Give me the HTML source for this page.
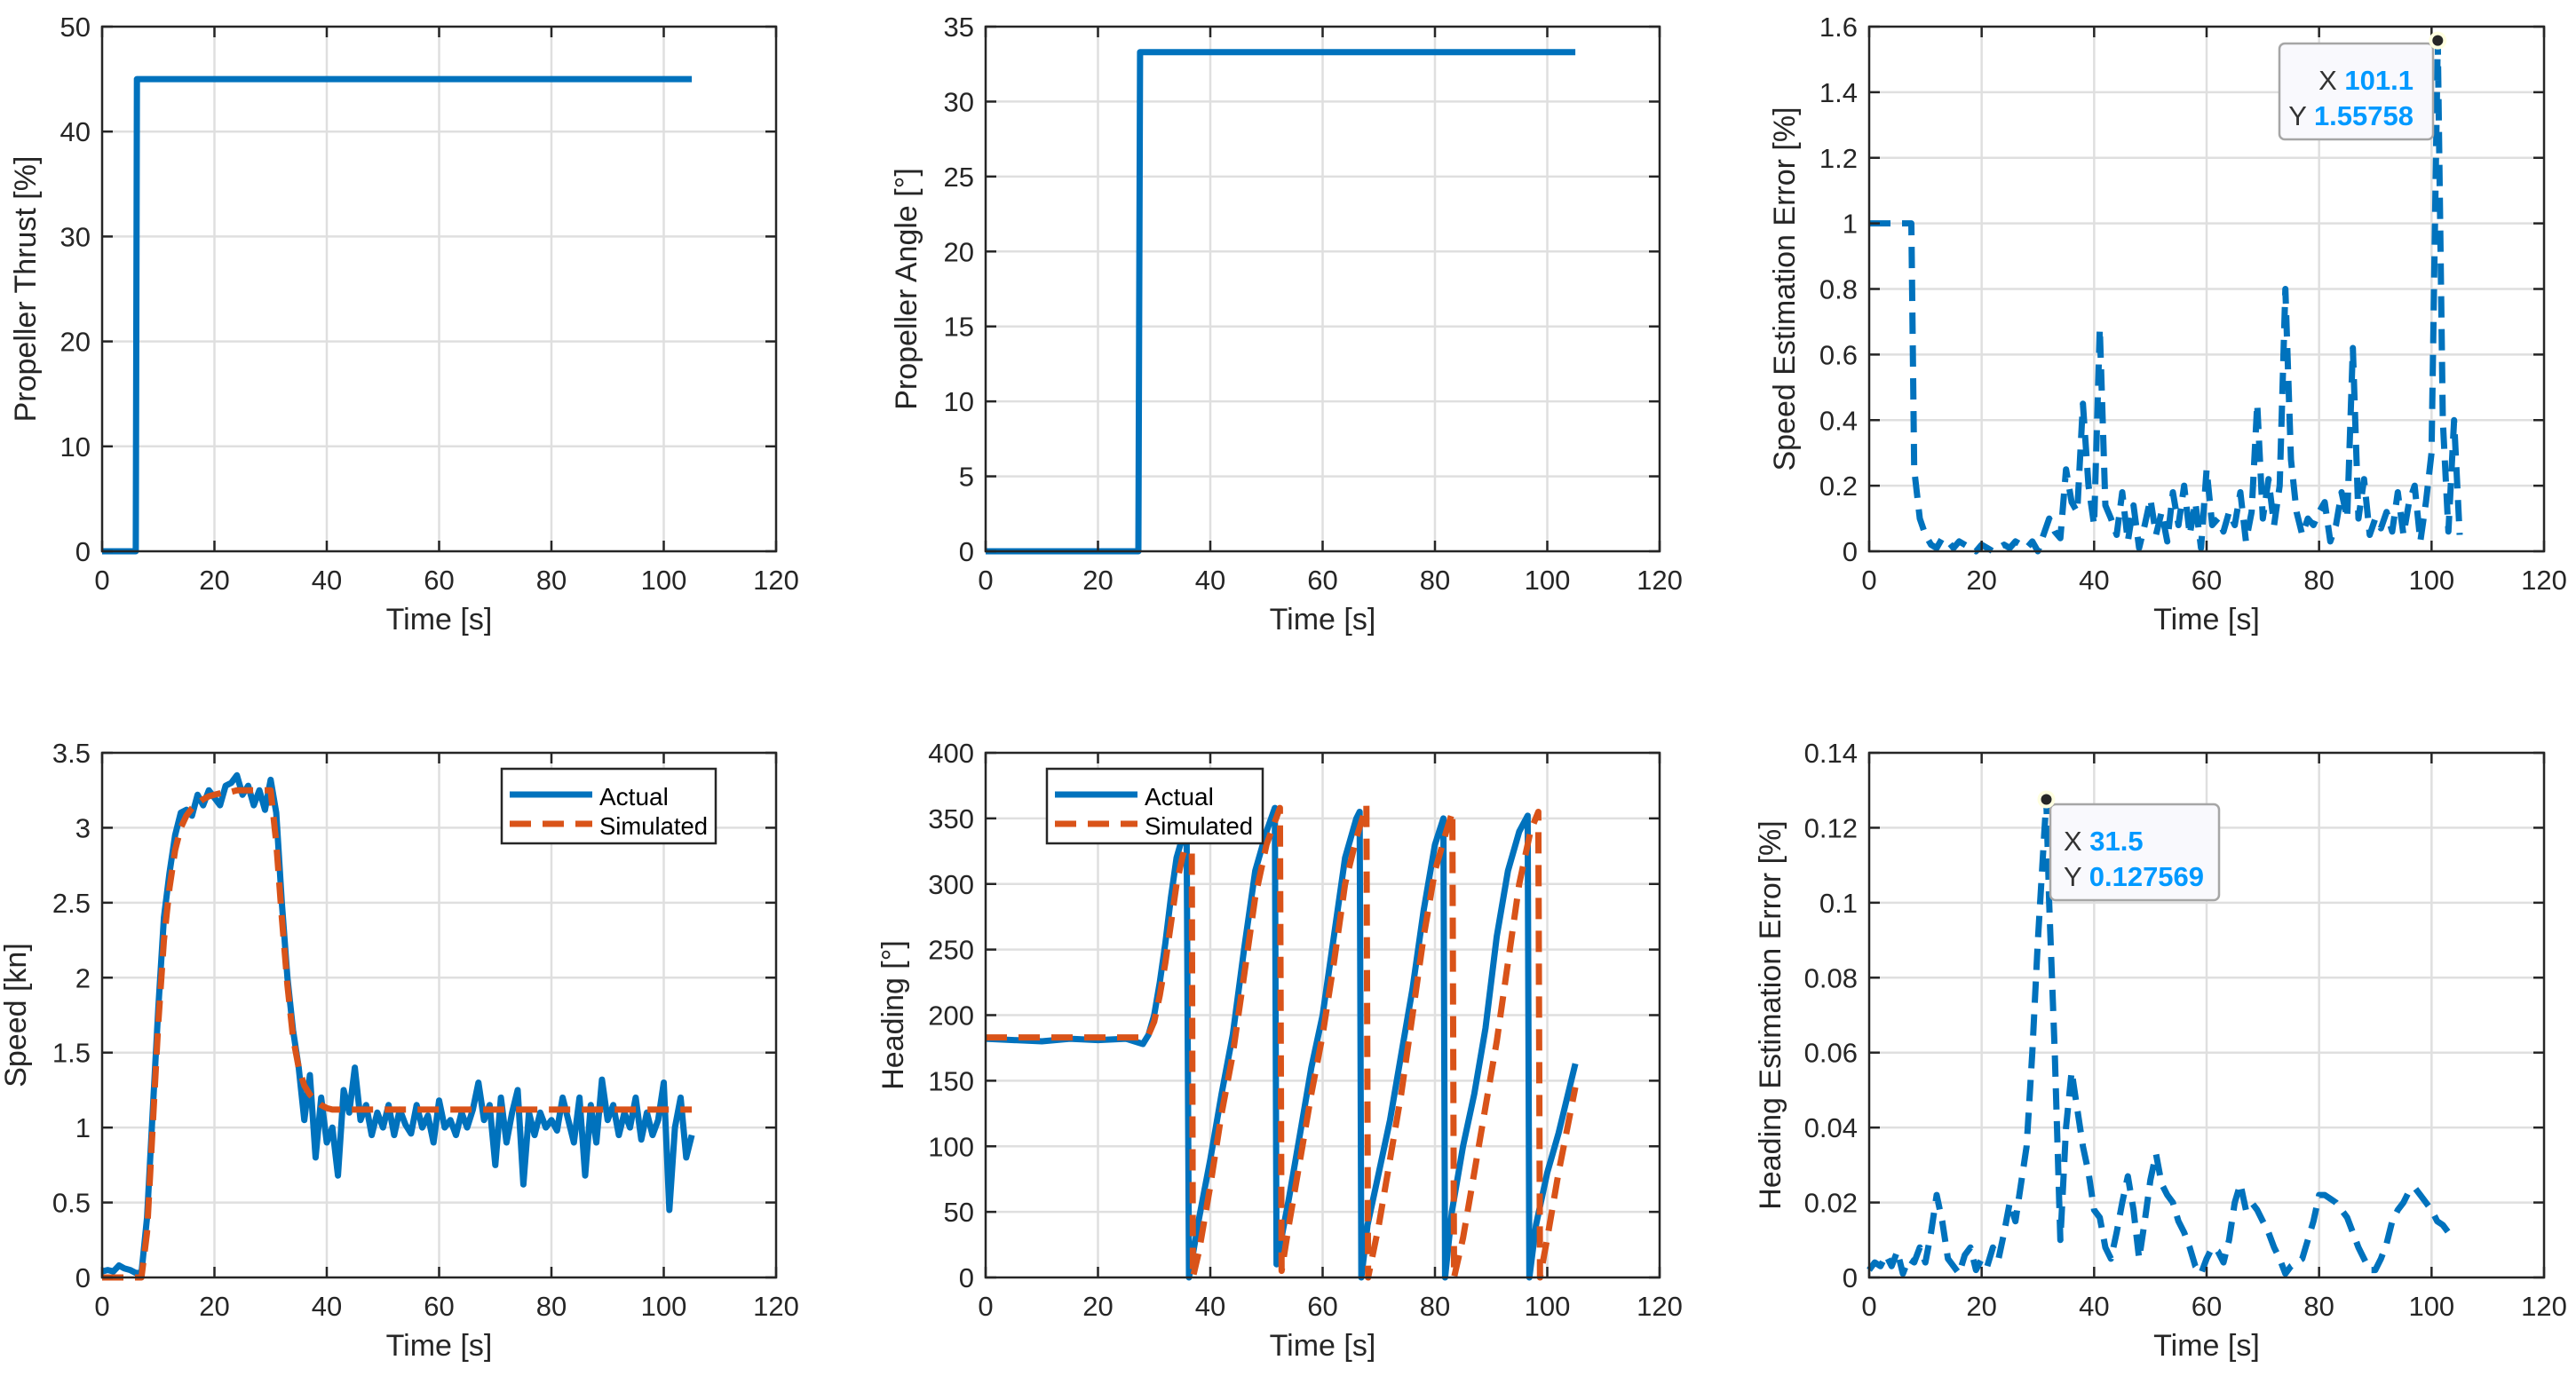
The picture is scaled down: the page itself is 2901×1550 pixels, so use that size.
<!DOCTYPE html>
<html><head><meta charset="utf-8">
<style>
html,body{margin:0;padding:0;background:#fff;}
svg{display:block;font-family:"Liberation Sans",Arial,sans-serif;}
</style></head>
<body>
<svg id="fig" width="2901" height="1550" viewBox="0 0 2901 1550" xmlns="http://www.w3.org/2000/svg"></svg>
<script>
// ---- data ----
const thrustT = [0, 6, 6.2, 105];
const thrustV = [0, 0, 45, 45];
const angleT = [0, 27.2, 27.5, 105];
const angleV = [0, 0, 33.3, 33.3];

const speedErrT = [0,1,2,3,4,5,6,7,7.5,8,9,10,11,12,13,14,15,16,17,18,19,20,21,22,23,24,25,26,27,28,29,30,31,32,33,34,35,36,37,38,39,40,41,42,43,44,45,46,47,48,49,50,51,52,53,54,55,56,57,58,59,60,61,62,63,64,65,66,67,68,69,70,71,72,73,74,75,76,77,78,79,80,81,82,83,84,85,86,87,88,89,90,91,92,93,94,95,96,97,98,99,100,101.1,102,103,104,105];
const speedErrV = [1,1,1,1,1,1,1,1,1,0.25,0.1,0.05,0.02,0.01,0.04,0.03,0.01,0.03,0.02,0.01,0,0.02,0.01,0,0.01,0.02,0.01,0.03,0.02,0.01,0.03,0,0.05,0.1,0.06,0.04,0.25,0.15,0.12,0.45,0.2,0.08,0.68,0.14,0.1,0.05,0.18,0.03,0.14,0.01,0.08,0.16,0.05,0.12,0.03,0.18,0.08,0.2,0.05,0.15,0.01,0.25,0.08,0.1,0.06,0.12,0.08,0.18,0.03,0.12,0.45,0.1,0.22,0.08,0.2,0.8,0.28,0.12,0.05,0.1,0.08,0.12,0.15,0.03,0.08,0.18,0.1,0.62,0.1,0.22,0.05,0.1,0.07,0.12,0.06,0.18,0.05,0.15,0.2,0.03,0.15,0.3,1.55758,0.4,0.06,0.4,0.05];

const speedT = [0,1,2,3,4,5,6,7,8,9,10,11,12,13,14,15,16,17,18,19,20,21,22,23,24,25,26,27,28,29,30,31,32,33,34,35,36,37,38,39,40,41,42,43,44,45,46,47,48,49,50,51,52,53,54,55,56,57,58,59,60,61,62,63,64,65,66,67,68,69,70,71,72,73,74,75,76,77,78,79,80,81,82,83,84,85,86,87,88,89,90,91,92,93,94,95,96,97,98,99,100,101,102,103,104,105];
const speedActual = [0.04,0.05,0.04,0.08,0.06,0.05,0.03,0.03,0.4,1.1,1.8,2.4,2.7,2.95,3.1,3.12,3.08,3.22,3.15,3.25,3.2,3.15,3.28,3.3,3.35,3.22,3.28,3.15,3.25,3.12,3.32,3.1,2.5,2.0,1.65,1.4,1.05,1.35,0.8,1.2,0.9,1.0,0.68,1.25,1.1,1.4,1.05,1.15,0.95,1.1,1.0,1.15,0.95,1.12,1.02,0.96,1.15,1.0,1.08,0.9,1.18,1.0,1.05,0.95,1.1,1.0,1.12,1.3,1.05,1.15,0.75,1.2,0.9,1.1,1.25,0.62,1.1,0.95,1.1,1.0,1.05,0.98,1.2,1.05,0.9,1.2,0.68,1.15,0.9,1.32,1.05,1.15,0.95,1.1,1.0,1.2,0.92,1.1,0.95,1.05,1.3,0.45,1.0,1.2,0.8,0.95];
const speedSim = [0,0,0,0,0,0,0,0,0.3,1.0,1.7,2.25,2.6,2.85,3.0,3.08,3.13,3.16,3.19,3.21,3.22,3.23,3.24,3.24,3.25,3.25,3.25,3.25,3.25,3.25,3.25,2.9,2.4,1.95,1.6,1.4,1.28,1.22,1.18,1.15,1.13,1.12,1.12,1.12,1.12,1.12,1.12,1.12,1.12,1.12,1.12,1.12,1.12,1.12,1.12,1.12,1.12,1.12,1.12,1.12,1.12,1.12,1.12,1.12,1.12,1.12,1.12,1.12,1.12,1.12,1.12,1.12,1.12,1.12,1.12,1.12,1.12,1.12,1.12,1.12,1.12,1.12,1.12,1.12,1.12,1.12,1.12,1.12,1.12,1.12,1.12,1.12,1.12,1.12,1.12,1.12,1.12,1.12,1.12,1.12,1.12,1.12,1.12,1.12,1.12,1.12];

const headT = [0,5,10,15,20,25,28,29,30,31,32,33,34,35,35.8,36.2,36.4,38,40,42,44,46,48,50,51.5,51.8,52,54,56,58,60,62,64,66,66.6,66.9,68,70,72,74,76,78,80,81.5,81.8,83,85,87,89,91,93,95,96.5,96.8,98,100,102,105];
const headActual = [182,181,180,182,181,182,178,185,200,225,255,290,320,335,330,0,5,45,90,140,185,250,310,340,358,10,15,60,110,160,200,260,320,350,355,0,40,80,120,170,220,280,330,350,0,50,100,140,190,260,310,340,352,0,40,80,110,163];
const headSimT = [0,28,29,30,31,32,33,34,35,36,36.7,36.9,38,40,42,44,46,48,50,52.4,52.7,54,56,58,60,62,64,66,67.8,68.1,70,72,74,76,78,80,82,83.1,83.4,85,87,89,91,93,95,97,98.4,98.7,100,102,105];
const headSim = [183,183,185,195,215,240,270,300,320,335,340,0,20,70,125,170,230,290,330,358,5,40,90,140,185,240,300,335,360,0,40,90,140,200,260,310,340,355,0,30,80,130,180,240,300,340,355,0,30,80,145];

const headErrT = [0,1,2,3,4,5,6,7,8,9,10,11,12,13,14,15,16,17,18,19,20,21,22,23,24,25,26,27,28,29,30,31,31.5,32,33,34,35,36,37,38,39,40,41,42,43,44,45,46,47,48,49,50,51,52,53,54,55,56,57,58,59,60,61,62,63,64,65,66,67,68,69,70,71,72,73,74,75,76,77,78,79,80,81,82,83,84,85,86,87,88,89,90,91,92,93,94,95,96,97,98,99,100,101,102,103];
const headErrV = [0.002,0.004,0.003,0.006,0.003,0.007,0.001,0.005,0.004,0.008,0.004,0.012,0.022,0.015,0.005,0.003,0.001,0.006,0.008,0.002,0.005,0.003,0.008,0.005,0.012,0.02,0.015,0.025,0.035,0.06,0.09,0.115,0.127569,0.1,0.06,0.01,0.04,0.055,0.045,0.035,0.028,0.018,0.016,0.008,0.005,0.012,0.02,0.027,0.018,0.005,0.015,0.026,0.033,0.025,0.022,0.02,0.015,0.012,0.008,0.003,0.001,0.005,0.008,0.007,0.004,0.01,0.02,0.025,0.018,0.02,0.018,0.015,0.012,0.008,0.005,0.001,0.003,0.004,0.005,0.01,0.015,0.022,0.022,0.021,0.02,0.018,0.016,0.012,0.008,0.005,0.002,0.002,0.005,0.009,0.015,0.018,0.02,0.023,0.024,0.022,0.02,0.018,0.015,0.014,0.012];

const xTicks = [0,20,40,60,80,100,120];
const thrustTicks = [0,10,20,30,40,50];
const angleTicks = [0,5,10,15,20,25,30,35];
const speedErrTicks = ["0","0.2","0.4","0.6","0.8","1","1.2","1.4","1.6"];
const speedTicks = ["0","0.5","1","1.5","2","2.5","3","3.5"];
const headTicks = [0,50,100,150,200,250,300,350,400];
const headErrTicks = ["0","0.02","0.04","0.06","0.08","0.1","0.12","0.14"];

// ---- drawing ----
const NS = "http://www.w3.org/2000/svg";
const svg = document.getElementById('fig');
const BLUE = "#0072bd", ORANGE = "#d95319", INK = "#262626";
function mk(tag, attrs, parent){const e=document.createElementNS(NS,tag);for(const k in attrs)e.setAttribute(k,attrs[k]);(parent||svg).appendChild(e);return e;}

function makeAxes(name, L, T, W, H, xmax, ymax, yTicks, ylabel, ylabelX){
  const g = mk('g',{});
  
  
  const sx = v => L + v / xmax * W;
  const sy = v => T + H - v / ymax * H;
  const grid = mk('g',{}, g);
  
  
  xTicks.forEach(v=>{ if(v>0&&v<xmax) mk('line',{x1:sx(v),x2:sx(v),y1:T,y2:T+H,stroke:'#dfdfdf','stroke-width':2.5},grid); });
  yTicks.forEach(v=>{ const n=+v; if(n>0&&n<ymax) mk('line',{x1:L,x2:L+W,y1:sy(n),y2:sy(n),stroke:'#dfdfdf','stroke-width':2.5},grid); });
  const plot = mk('g',{}, g);
  
  
  const frame = mk('g',{}, g);
  const box = mk('rect',{x:L,y:T,width:W,height:H,fill:'none',stroke:INK,'stroke-width':2.5},frame);
  
  
  xTicks.forEach(v=>{
    mk('line',{x1:sx(v),x2:sx(v),y1:T+H,y2:T+H-12,stroke:INK,'stroke-width':2.5},frame);
    mk('line',{x1:sx(v),x2:sx(v),y1:T,y2:T+12,stroke:INK,'stroke-width':2.5},frame);
    const t = mk('text',{x:sx(v),y:T+H+43,'font-size':31,fill:INK,'text-anchor':'middle'},frame);
    t.textContent = v;
    
    
  });
  yTicks.forEach(v=>{
    const n=+v;
    mk('line',{x1:L,x2:L+12,y1:sy(n),y2:sy(n),stroke:INK,'stroke-width':2.5},frame);
    mk('line',{x1:L+W,x2:L+W-12,y1:sy(n),y2:sy(n),stroke:INK,'stroke-width':2.5},frame);
    const t = mk('text',{x:L-13,y:sy(n)+11,'font-size':31,fill:INK,'text-anchor':'end'},frame);
    t.textContent = v;
    
    
  });
  const xl = mk('text',{x:L+W/2,y:T+H+88,'font-size':34,fill:INK,'text-anchor':'middle'},g);
  xl.textContent = 'Time [s]';
  
  
  const cy = T+H/2;
  const yl = mk('text',{x:ylabelX,y:cy,'font-size':34,fill:INK,'text-anchor':'middle',transform:`rotate(-90 ${ylabelX} ${cy})`},g);
  yl.textContent = ylabel;
  
  
  return {sx, sy, plot};
}
function line(ax, ts, vs, color, dash, name){
  let d=''; ts.forEach((t,i)=>{ d += (i?'L':'M') + ax.sx(t).toFixed(1) + ',' + ax.sy(vs[i]).toFixed(1); });
  const p = mk('path',{d, fill:'none', stroke:color, 'stroke-width':7, 'stroke-linejoin':'round', 'stroke-dasharray': dash?'24 13':'none'}, ax.plot);
  
  
}
function legend(x, y, name){
  const g = mk('g',{});
  
  
  mk('rect',{x, y, width: x<1000?241:243, height:84, fill:'#fff', stroke:INK,'stroke-width':2.5}, g);
  mk('line',{x1:x+9,x2:x+102,y1:y+29,y2:y+29,stroke:BLUE,'stroke-width':7},g);
  mk('line',{x1:x+9,x2:x+102,y1:y+62,y2:y+62,stroke:ORANGE,'stroke-width':7,'stroke-dasharray':'24 13'},g);
  const a = mk('text',{x:x+110,y:y+41,'font-size':28,fill:'#000'},g); a.textContent='Actual';
  
  
  const s = mk('text',{x:x+110,y:y+74,'font-size':28,fill:'#000',textLength:122,lengthAdjust:'spacingAndGlyphs'},g); s.textContent='Simulated';
  
  
}
function datatip(ax, xv, yv, bx, by, bw, bh, xs, ys, alignRight, name){
  const g = mk('g',{});
  
  
  mk('rect',{x:bx,y:by,width:bw,height:bh,rx:6,fill:'#f9f9fd',stroke:'#a6a6a6','stroke-width':2.5},g);
  mk('circle',{cx:ax.sx(xv),cy:ax.sy(yv),r:10,fill:'#ffffe0'},g);
  mk('circle',{cx:ax.sx(xv),cy:ax.sy(yv),r:6,fill:'#262626'},g);
  const tx = alignRight ? bx+bw-22 : bx+15;
  const anchor = alignRight ? 'end' : 'start';
  const t1 = mk('text',{x:tx,y:by+52,'font-size':31,fill:'#333','text-anchor':anchor},g);
  t1.innerHTML = 'X <tspan fill="#0099ff" font-weight="bold">'+xs+'</tspan>';
  const t2 = mk('text',{x:tx,y:by+92,'font-size':31,fill:'#333','text-anchor':anchor},g);
  t2.innerHTML = 'Y <tspan fill="#0099ff" font-weight="bold">'+ys+'</tspan>';
}

const TOP=30, H=591, BT=848, W=759;
const a1 = makeAxes('thrust-chart',115,TOP,W,H,120,50,thrustTicks,'Propeller Thrust [%]',40);
line(a1, thrustT, thrustV, BLUE, false, 'thrust-line');
const a2 = makeAxes('angle-chart',1110,TOP,W,H,120,35,angleTicks,'Propeller Angle [°]',1032);
line(a2, angleT, angleV, BLUE, false, 'angle-line');
const a3 = makeAxes('speed-error-chart',2105,TOP,W+1,H,120,1.6,speedErrTicks,'Speed Estimation Error [%]',2021);
line(a3, speedErrT, speedErrV, BLUE, true, 'speed-error-line');
const a4 = makeAxes('speed-chart',115,BT,W,H,120,3.5,speedTicks,'Speed [kn]',29);
line(a4, speedT, speedActual, BLUE, false, 'speed-actual-line');
line(a4, speedT, speedSim, ORANGE, true, 'speed-simulated-line');
const a5 = makeAxes('heading-chart',1110,BT,W,H,120,400,headTicks,'Heading [°]',1017);
line(a5, headT, headActual, BLUE, false, 'heading-actual-line');
line(a5, headSimT, headSim, ORANGE, true, 'heading-simulated-line');
const a6 = makeAxes('heading-error-chart',2105,BT,W+1,H,120,0.14,headErrTicks,'Heading Estimation Error [%]',2005);
line(a6, headErrT, headErrV, BLUE, true, 'heading-error-line');

legend(565, 866, 'speed-legend');
legend(1179, 866, 'heading-legend');
datatip(a3, 101.1, 1.55758, 2567, 49, 173, 108, '101.1', '1.55758', true, 'speed-error-datatip');
datatip(a6, 31.5, 0.127569, 2309, 906, 190, 108, '31.5', '0.127569', false, 'heading-error-datatip');
</script>
</body></html>
